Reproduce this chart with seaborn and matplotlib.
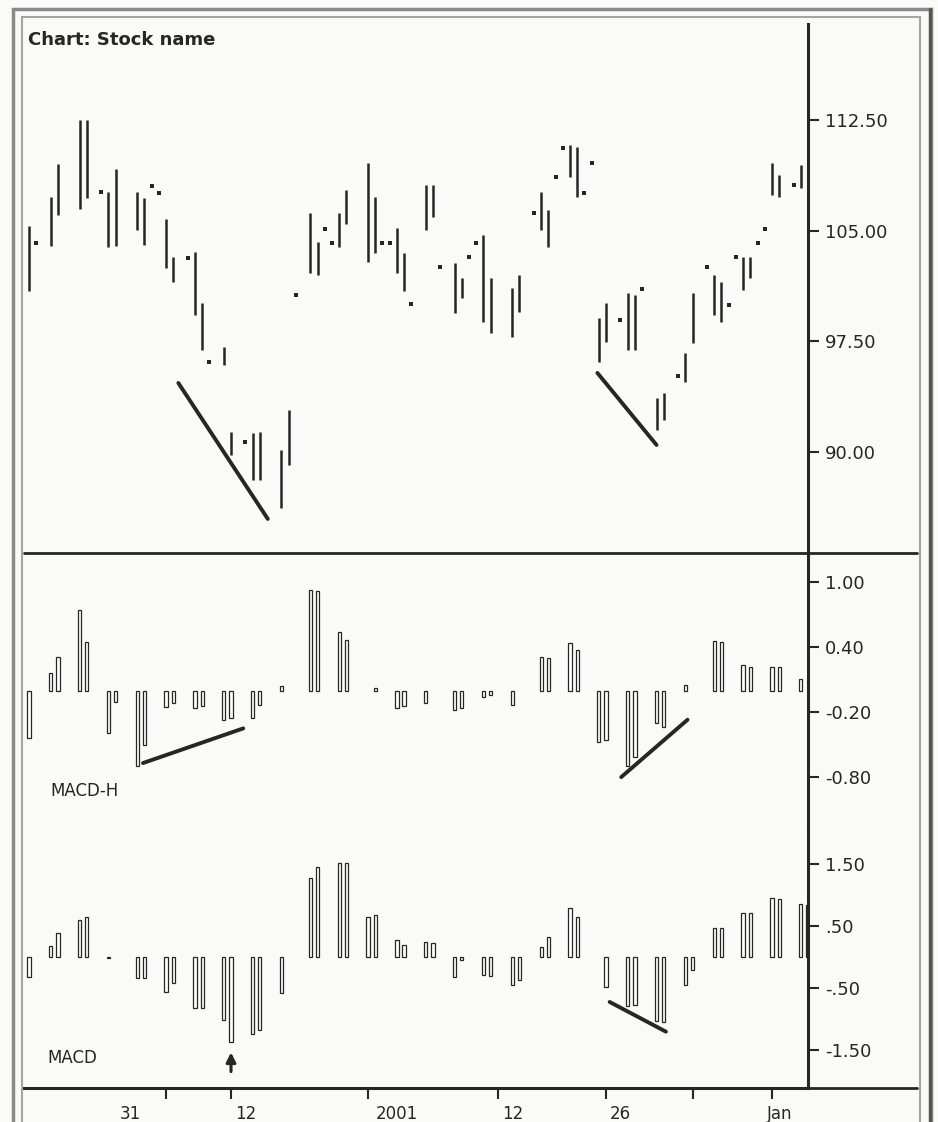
import matplotlib.pyplot as plt
import seaborn as sns
from matplotlib.lines import Line2D
from matplotlib.patches import Rectangle

# price bars: day slot, high, low
bar_day = [1, 4, 5, 8, 9, 12, 13, 16, 17, 20, 21, 24, 25, 28, 29, 32, 33, 36, 37,
           40, 41, 44, 45, 48, 49, 52, 53, 56, 57, 60, 61, 64, 65, 68, 69, 72, 73,
           76, 77, 80, 81, 84, 85, 88, 89, 92, 93, 96, 97, 100, 101, 104, 105, 108, 109]
bar_high = [105.32, 107.28, 109.52, 112.50, 112.50, 107.62, 109.18, 107.62, 107.22,
            105.79, 103.22, 103.56, 100.10, 97.12, 91.36, 91.29, 91.36, 90.14, 92.85,
            106.20, 104.23, 106.20, 107.76, 109.59, 107.28, 105.18, 103.49, 108.10, 108.10,
            102.81, 101.80, 104.71, 101.80, 101.12, 102.00, 107.62, 106.40, 110.81, 110.67,
            99.09, 100.10, 100.78, 100.64, 93.67, 94.00, 96.71, 100.78, 102.00, 101.52,
            103.22, 103.22, 109.59, 108.77, 109.45, 110.67]
bar_low = [100.91, 103.96, 106.06, 106.47, 107.22, 103.90, 103.96, 105.05, 104.03,
           102.47, 101.52, 99.29, 96.92, 95.90, 89.80, 88.11, 88.11, 86.21, 89.13,
           102.13, 102.00, 103.90, 105.45, 102.88, 103.49, 102.13, 100.91, 105.05, 105.93,
           99.42, 100.44, 98.81, 98.07, 97.80, 99.49, 105.05, 103.90, 108.64, 107.28,
           96.10, 97.46, 96.92, 96.92, 91.50, 92.17, 94.75, 97.39, 99.29, 98.81,
           100.98, 101.80, 107.42, 107.28, 107.89, 108.64]

# single-tick days
dot_day = [2, 11, 18, 19, 23, 26, 31, 38, 42, 43, 50, 51, 54, 58, 62, 63, 71, 74,
           75, 78, 79, 83, 86, 91, 95, 98, 99, 102, 103, 107]
dot_price = [104.17, 107.62, 108.03, 107.55, 103.15, 96.10, 90.68, 100.64, 105.12,
             104.17, 104.17, 104.17, 100.03, 102.54, 103.22, 104.17, 106.20, 108.64,
             110.60, 107.55, 109.59, 98.95, 101.05, 95.16, 102.54, 99.97, 103.22,
             104.17, 105.12, 108.10]

# MACD-Histogram
hist_day = [1, 4, 5, 8, 9, 12, 13, 16, 17, 20, 21, 24, 25, 28, 29, 32, 33, 36, 40, 41,
            44, 45, 49, 52, 53, 56, 60, 61, 64, 65, 68, 72, 73, 76, 77, 80, 81, 84, 85,
            88, 89, 92, 96, 97, 100, 101, 104, 105, 108]
hist_value = [-0.44, 0.16, 0.31, 0.74, 0.45, -0.39, -0.11, -0.70, -0.50, -0.15, -0.12,
              -0.16, -0.14, -0.27, -0.25, -0.25, -0.13, 0.04, 0.93, 0.92, 0.54, 0.47,
              0.02, -0.16, -0.14, -0.12, -0.18, -0.16, -0.06, -0.04, -0.13, 0.31, 0.30,
              0.44, 0.37, -0.48, -0.46, -0.70, -0.61, -0.30, -0.34, 0.05, 0.46, 0.45,
              0.24, 0.22, 0.22, 0.22, 0.11]

# MACD
macd_day = [1, 4, 5, 8, 9, 12, 16, 17, 20, 21, 24, 25, 28, 29, 32, 33, 36, 40, 41, 44,
            45, 48, 49, 52, 53, 56, 57, 60, 61, 64, 65, 68, 69, 72, 73, 76, 77, 81, 84,
            85, 88, 89, 92, 93, 96, 97, 100, 101, 104, 105, 108, 109]
macd_value = [-0.32, 0.17, 0.38, 0.59, 0.64, -0.02, -0.35, -0.35, -0.57, -0.42, -0.83,
              -0.83, -1.02, -1.38, -1.24, -1.18, -0.59, 1.27, 1.45, 1.51, 1.51, 0.65,
              0.67, 0.27, 0.19, 0.24, 0.22, -0.33, -0.05, -0.30, -0.31, -0.46, -0.38,
              0.16, 0.32, 0.79, 0.64, -0.49, -0.80, -0.78, -1.04, -1.05, -0.46, -0.21,
              0.46, 0.46, 0.71, 0.71, 0.95, 0.93, 0.85, 0.84]

# divergence lines: (days, values)
price_div = [([21.7, 34.1], [94.68, 85.47]), ([79.8, 88.0], [95.36, 90.48])]
hist_div = [([16.8, 30.7], [-0.67, -0.35]), ([83.1, 92.3], [-0.80, -0.27])]
macd_div = [([81.5, 89.3], [-0.73, -1.21])]

price_ticks = [90.0, 97.5, 105.0, 112.5]
price_labels = ['90.00', '97.50', '105.00', '112.50']
hist_ticks = [-0.8, -0.2, 0.4, 1.0]
hist_labels = ['-0.80', '-0.20', '0.40', '1.00']
macd_ticks = [-1.5, -0.5, 0.5, 1.5]
macd_labels = ['-1.50', '-.50', '.50', '1.50']
date_ticks = [20, 29, 48, 66, 81, 93, 104]
date_label_days = [15, 31, 52, 68, 83, 105]
date_labels = ['31', '12', '2001', '12', '26', 'Jan']

ink = '#262626'
paper = '#fafaf8'

sns.set_theme(style='white')
plt.rcParams['font.family'] = ['DejaVu Sans']

W, H = 938, 1122
fig = plt.figure(figsize=(W / 100, H / 100), dpi=100)
fig.patch.set_facecolor(paper)

def box(top, bottom, left=24, right=808):
    return [left / W, 1 - bottom / H, (right - left) / W, (bottom - top) / H]

ax_p = fig.add_axes(box(18, 553))
ax_h = fig.add_axes(box(553, 828))
ax_m = fig.add_axes(box(828, 1088))

xlim = (0.3, 109.0)

# price panel
ax_p.vlines(bar_day, bar_low, bar_high, color=ink, lw=1.8)
sns.scatterplot(x=dot_day, y=dot_price, marker='s', s=7, color=ink, linewidth=0, ax=ax_p)
for xs, ys in price_div:
    ax_p.plot(xs, ys, color=ink, lw=2.8, solid_capstyle='round')
ax_p.set_ylim(83.16, 119.41)
ax_p.set_yticks(price_ticks, price_labels)
ax_p.text(0.9, 117.9, 'Chart: Stock name', fontsize=13, fontweight='bold',
          color=ink, ha='left', va='center')

# MACD-Histogram panel
sns.barplot(x=hist_day, y=hist_value, native_scale=True, width=0.45, color='white',
            edgecolor=ink, linewidth=0.9, errorbar=None, ax=ax_h)
for xs, ys in hist_div:
    ax_h.plot(xs, ys, color=ink, lw=2.8, solid_capstyle='round')
ax_h.set_ylim(-1.27, 1.27)
ax_h.set_yticks(hist_ticks, hist_labels)
ax_h.text(3.9, -0.93, 'MACD-H', fontsize=12, color=ink, ha='left', va='center')

# MACD panel
sns.barplot(x=macd_day, y=macd_value, native_scale=True, width=0.45, color='white',
            edgecolor=ink, linewidth=0.9, errorbar=None, ax=ax_m)
for xs, ys in macd_div:
    ax_m.plot(xs, ys, color=ink, lw=2.8, solid_capstyle='round')
ax_m.annotate('', xy=(29, -1.50), xytext=(29, -1.90),
              arrowprops=dict(arrowstyle='-|>', lw=2.2, color=ink, mutation_scale=14))
ax_m.set_ylim(-2.12, 2.08)
ax_m.set_yticks(macd_ticks, macd_labels)
ax_m.text(3.5, -1.64, 'MACD', fontsize=12, color=ink, ha='left', va='center')
ax_m.set_xticks(date_label_days, date_labels)
ax_m.set_xticks(date_ticks, minor=True)
ax_m.tick_params(axis='x', which='major', length=0, pad=12, labelsize=12, colors=ink)
ax_m.tick_params(axis='x', which='minor', length=8, width=1.5, color=ink, direction='out')

for ax in (ax_p, ax_h, ax_m):
    ax.set_facecolor(paper)
    ax.set_xlim(*xlim)
    ax.set_xlabel('')
    ax.set_ylabel('')
    ax.yaxis.tick_right()
    ax.tick_params(axis='y', which='major', right=True, length=8, width=1.5,
                   color=ink, labelsize=13, labelcolor=ink, pad=4, direction='out')
    for side in ('top', 'left', 'bottom'):
        ax.spines[side].set_visible(False)
    ax.spines['right'].set_color(ink)
    ax.spines['right'].set_linewidth(2.2)
ax_p.set_xticks([])
ax_h.set_xticks([])
ax_m.spines['bottom'].set_visible(True)
ax_m.spines['bottom'].set_color(ink)
ax_m.spines['bottom'].set_linewidth(2.2)
ax_m.tick_params(axis='x', which='both', bottom=True)
ax_p.spines['right'].set_bounds(83.16, 119.0)

# panel separators that run past the price scale
for y in (553, 1088):
    fig.add_artist(Line2D([24 / W, 917 / W], [1 - y / H, 1 - y / H],
                          color=ink, lw=2.0))

# scanned frame
fig.add_artist(Rectangle((13 / W, -0.02), (918 / W), 1 - 9 / H + 0.02,
                         fill=False, edgecolor='#8a8a8a', lw=2.5))
fig.add_artist(Rectangle((22 / W, -0.02), (898 / W), 1 - 17 / H + 0.02,
                         fill=False, edgecolor='#a5a5a5', lw=1.5))
fig.add_artist(Line2D([930 / W, 930 / W], [0, 1 - 9 / H], color='#555555', lw=2.5))

fig.savefig('out.png', dpi=100, facecolor=fig.get_facecolor())
